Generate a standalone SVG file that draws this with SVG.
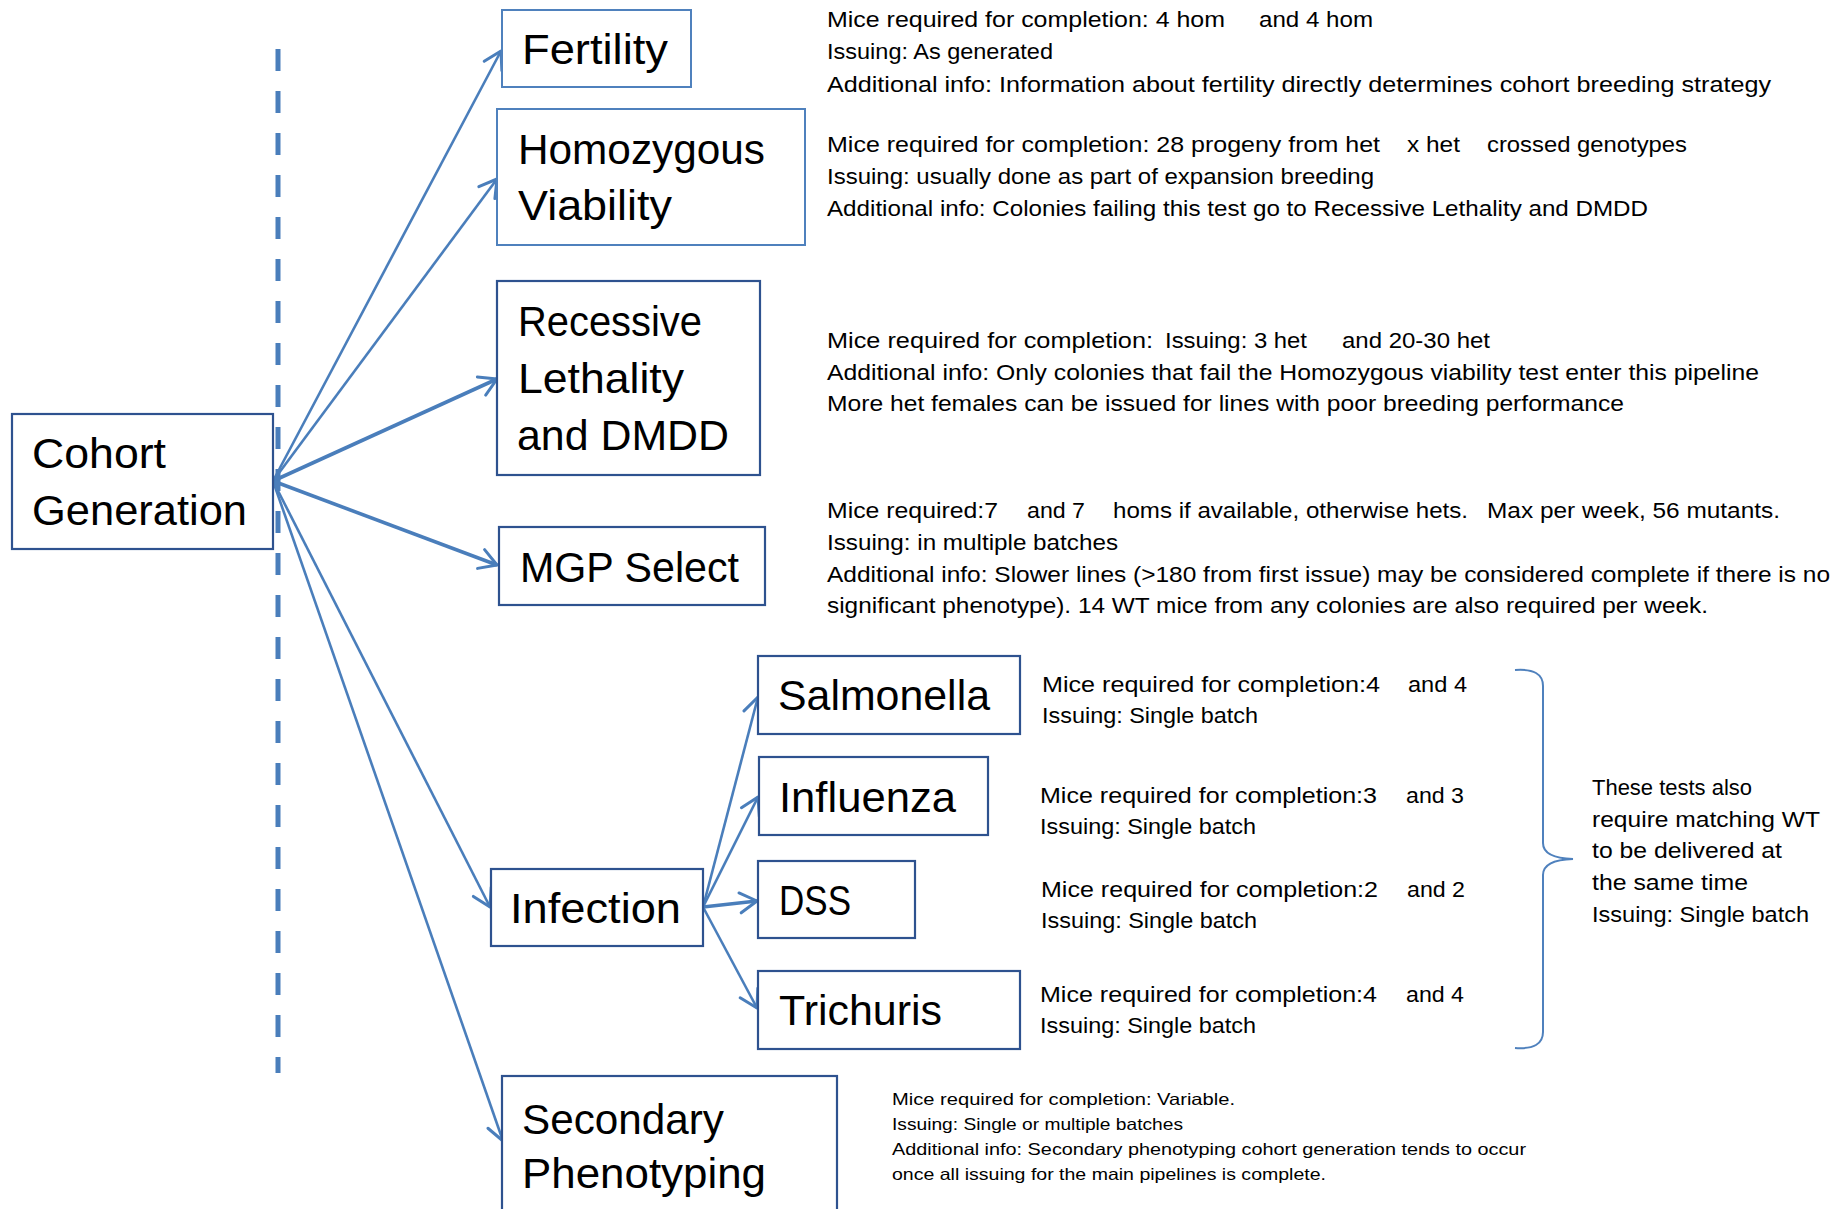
<svg xmlns="http://www.w3.org/2000/svg" width="1848" height="1209" viewBox="0 0 1848 1209">
<defs>
<style>
.box{fill:#fff;stroke:#2E528F;stroke-width:2.2}
.boxl{fill:#fff;stroke:#4F81BD;stroke-width:2}
.big{font-family:"Liberation Sans",Arial,sans-serif;font-size:42px;fill:#000}
.sm{font-family:"Liberation Sans",Arial,sans-serif;font-size:21.5px;fill:#000}
.xs{font-family:"Liberation Sans",Arial,sans-serif;font-size:16.5px;fill:#000}
.con{stroke:#4A7EBB;stroke-width:2.6;fill:none;marker-end:url(#arr)}
.thick{stroke-width:3.6}
</style>
<marker id="arr" markerUnits="userSpaceOnUse" markerWidth="30" markerHeight="30" refX="0" refY="0" viewBox="-20 -15 25 30" orient="auto" overflow="visible">
<path d="M-17,-10 L0,0 L-17,10" fill="none" stroke="#4A7EBB" stroke-width="3" stroke-linecap="round" stroke-linejoin="round"/>
</marker>
</defs>
<rect width="1848" height="1209" fill="#fff"/>

<line id="divider" x1="278" y1="49" x2="278" y2="1073" stroke="#4A7EBB" stroke-width="5" stroke-dasharray="22 20"/>

<g id="connectors">
<line class="con" x1="273" y1="481" x2="501" y2="51"/>
<line class="con" x1="273" y1="481" x2="497" y2="179"/>
<line class="con thick" x1="273" y1="481" x2="497" y2="379"/>
<line class="con thick" x1="273" y1="481" x2="497" y2="565"/>
<line class="con" x1="273" y1="481" x2="490" y2="907"/>
<line class="con" x1="273" y1="481" x2="503" y2="1141"/>
<line class="con" x1="703" y1="907" x2="758" y2="697"/>
<line class="con" x1="703" y1="907" x2="758" y2="797"/>
<line class="con thick" x1="703" y1="907" x2="757" y2="901"/>
<line class="con" x1="703" y1="907" x2="757" y2="1008"/>
</g>

<g id="cohort">
<rect class="box" x="12" y="414" width="261" height="135"/>
<text class="big" x="32" y="468" textLength="134" lengthAdjust="spacingAndGlyphs">Cohort</text>
<text class="big" x="32" y="525" textLength="215" lengthAdjust="spacingAndGlyphs">Generation</text>
</g>

<g id="fertility">
<rect class="boxl" x="502" y="10" width="189" height="77"/>
<text class="big" x="522" y="64" textLength="146" lengthAdjust="spacingAndGlyphs">Fertility</text>
</g>

<g id="homozygous">
<rect class="boxl" x="497" y="109" width="308" height="136"/>
<text class="big" x="518" y="164" textLength="247" lengthAdjust="spacingAndGlyphs">Homozygous</text>
<text class="big" x="518" y="220" textLength="154" lengthAdjust="spacingAndGlyphs">Viability</text>
</g>

<g id="recessive">
<rect class="box" x="497" y="281" width="263" height="194"/>
<text class="big" x="518" y="336" textLength="184" lengthAdjust="spacingAndGlyphs">Recessive</text>
<text class="big" x="518" y="393" textLength="166" lengthAdjust="spacingAndGlyphs">Lethality</text>
<text class="big" x="517" y="450" textLength="212" lengthAdjust="spacingAndGlyphs">and DMDD</text>
</g>

<g id="mgp">
<rect class="box" x="499" y="527" width="266" height="78"/>
<text class="big" x="520" y="582" textLength="219" lengthAdjust="spacingAndGlyphs">MGP Select</text>
</g>

<g id="infection">
<rect class="box" x="491" y="869" width="212" height="77"/>
<text class="big" x="510" y="923" textLength="171" lengthAdjust="spacingAndGlyphs">Infection</text>
</g>

<g id="salmonella">
<rect class="box" x="758" y="656" width="262" height="78"/>
<text class="big" x="778" y="710" textLength="212" lengthAdjust="spacingAndGlyphs">Salmonella</text>
</g>

<g id="influenza">
<rect class="box" x="759" y="757" width="229" height="78"/>
<text class="big" x="779" y="812" textLength="177" lengthAdjust="spacingAndGlyphs">Influenza</text>
</g>

<g id="dss">
<rect class="box" x="758" y="861" width="157" height="77"/>
<text class="big" x="779" y="915" textLength="72" lengthAdjust="spacingAndGlyphs">DSS</text>
</g>

<g id="trichuris">
<rect class="box" x="758" y="971" width="262" height="78"/>
<text class="big" x="779" y="1025" textLength="163" lengthAdjust="spacingAndGlyphs">Trichuris</text>
</g>

<g id="secondary">
<rect class="box" x="502" y="1076" width="335" height="150"/>
<text class="big" x="522" y="1134" textLength="202" lengthAdjust="spacingAndGlyphs">Secondary</text>
<text class="big" x="522" y="1188" textLength="244" lengthAdjust="spacingAndGlyphs">Phenotyping</text>
</g>

<g id="info-fertility">
<text class="sm" x="827" y="27" textLength="398" lengthAdjust="spacingAndGlyphs">Mice required for completion: 4 hom</text>
<text class="sm" x="1259" y="27" textLength="114" lengthAdjust="spacingAndGlyphs">and 4 hom</text>
<text class="sm" x="827" y="59" textLength="226" lengthAdjust="spacingAndGlyphs">Issuing: As generated</text>
<text class="sm" x="827" y="92" textLength="944" lengthAdjust="spacingAndGlyphs">Additional info: Information about fertility directly determines cohort breeding strategy</text>
</g>

<g id="info-homozygous">
<text class="sm" x="827" y="152" textLength="553" lengthAdjust="spacingAndGlyphs">Mice required for completion: 28 progeny from het</text>
<text class="sm" x="1407" y="152" textLength="53" lengthAdjust="spacingAndGlyphs">x het</text>
<text class="sm" x="1487" y="152" textLength="200" lengthAdjust="spacingAndGlyphs">crossed genotypes</text>
<text class="sm" x="827" y="184" textLength="547" lengthAdjust="spacingAndGlyphs">Issuing: usually done as part of expansion breeding</text>
<text class="sm" x="827" y="216" textLength="821" lengthAdjust="spacingAndGlyphs">Additional info: Colonies failing this test go to Recessive Lethality and DMDD</text>
</g>

<g id="info-recessive">
<text class="sm" x="827" y="348" textLength="326" lengthAdjust="spacingAndGlyphs">Mice required for completion:</text>
<text class="sm" x="1165" y="348" textLength="142" lengthAdjust="spacingAndGlyphs">Issuing: 3 het</text>
<text class="sm" x="1342" y="348" textLength="148" lengthAdjust="spacingAndGlyphs">and 20-30 het</text>
<text class="sm" x="827" y="380" textLength="932" lengthAdjust="spacingAndGlyphs">Additional info: Only colonies that fail the Homozygous viability test enter this pipeline</text>
<text class="sm" x="827" y="411" textLength="797" lengthAdjust="spacingAndGlyphs">More het females can be issued for lines with poor breeding performance</text>
</g>

<g id="info-mgp">
<text class="sm" x="827" y="518" textLength="171" lengthAdjust="spacingAndGlyphs">Mice required:7</text>
<text class="sm" x="1027" y="518" textLength="58" lengthAdjust="spacingAndGlyphs">and 7</text>
<text class="sm" x="1113" y="518" textLength="355" lengthAdjust="spacingAndGlyphs">homs if available, otherwise hets.</text>
<text class="sm" x="1487" y="518" textLength="293" lengthAdjust="spacingAndGlyphs">Max per week, 56 mutants.</text>
<text class="sm" x="827" y="550" textLength="291" lengthAdjust="spacingAndGlyphs">Issuing: in multiple batches</text>
<text class="sm" x="827" y="582" textLength="1003" lengthAdjust="spacingAndGlyphs">Additional info: Slower lines (&gt;180 from first issue) may be considered complete if there is no</text>
<text class="sm" x="827" y="613" textLength="881" lengthAdjust="spacingAndGlyphs">significant phenotype). 14 WT mice from any colonies are also required per week.</text>
</g>

<g id="info-salmonella">
<text class="sm" x="1042" y="692" textLength="338" lengthAdjust="spacingAndGlyphs">Mice required for completion:4</text>
<text class="sm" x="1408" y="692" textLength="59" lengthAdjust="spacingAndGlyphs">and 4</text>
<text class="sm" x="1042" y="723" textLength="216" lengthAdjust="spacingAndGlyphs">Issuing: Single batch</text>
</g>

<g id="info-influenza">
<text class="sm" x="1040" y="803" textLength="337" lengthAdjust="spacingAndGlyphs">Mice required for completion:3</text>
<text class="sm" x="1406" y="803" textLength="58" lengthAdjust="spacingAndGlyphs">and 3</text>
<text class="sm" x="1040" y="834" textLength="216" lengthAdjust="spacingAndGlyphs">Issuing: Single batch</text>
</g>

<g id="info-dss">
<text class="sm" x="1041" y="897" textLength="337" lengthAdjust="spacingAndGlyphs">Mice required for completion:2</text>
<text class="sm" x="1407" y="897" textLength="58" lengthAdjust="spacingAndGlyphs">and 2</text>
<text class="sm" x="1041" y="928" textLength="216" lengthAdjust="spacingAndGlyphs">Issuing: Single batch</text>
</g>

<g id="info-trichuris">
<text class="sm" x="1040" y="1002" textLength="337" lengthAdjust="spacingAndGlyphs">Mice required for completion:4</text>
<text class="sm" x="1406" y="1002" textLength="58" lengthAdjust="spacingAndGlyphs">and 4</text>
<text class="sm" x="1040" y="1033" textLength="216" lengthAdjust="spacingAndGlyphs">Issuing: Single batch</text>
</g>

<g id="brace">
<path d="M1515,670 Q1543,668 1543,686 L1543,843 Q1543,858 1573,859 Q1543,860 1543,875 L1543,1032 Q1543,1050 1515,1048" fill="none" stroke="#4F81BD" stroke-width="2"/>
<text class="sm" x="1592" y="795" textLength="160" lengthAdjust="spacingAndGlyphs">These tests also</text>
<text class="sm" x="1592" y="827" textLength="228" lengthAdjust="spacingAndGlyphs">require matching WT</text>
<text class="sm" x="1592" y="858" textLength="190" lengthAdjust="spacingAndGlyphs">to be delivered at</text>
<text class="sm" x="1592" y="890" textLength="156" lengthAdjust="spacingAndGlyphs">the same time</text>
<text class="sm" x="1592" y="922" textLength="217" lengthAdjust="spacingAndGlyphs">Issuing: Single batch</text>
</g>

<g id="info-secondary">
<text class="xs" x="892" y="1105" textLength="343" lengthAdjust="spacingAndGlyphs">Mice required for completion: Variable.</text>
<text class="xs" x="892" y="1130" textLength="291" lengthAdjust="spacingAndGlyphs">Issuing: Single or multiple batches</text>
<text class="xs" x="892" y="1155" textLength="634" lengthAdjust="spacingAndGlyphs">Additional info: Secondary phenotyping cohort generation tends to occur</text>
<text class="xs" x="892" y="1180" textLength="434" lengthAdjust="spacingAndGlyphs">once all issuing for the main pipelines is complete.</text>
</g>
</svg>
